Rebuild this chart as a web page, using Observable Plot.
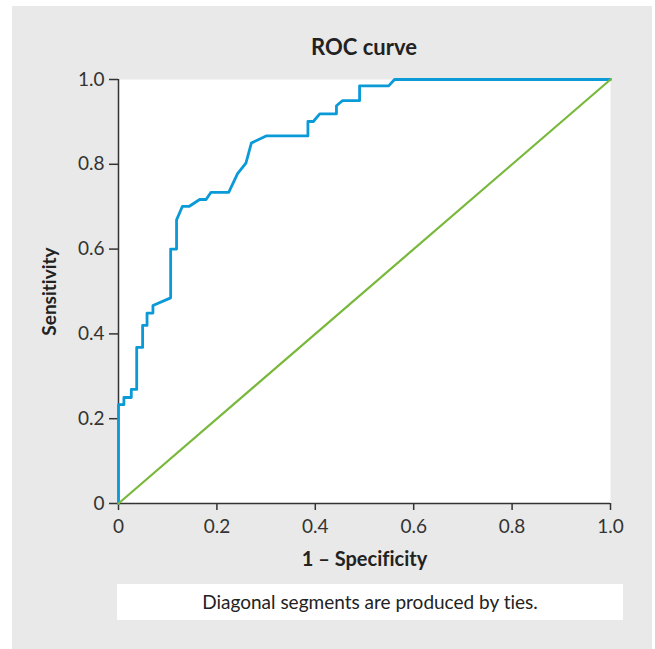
<!DOCTYPE html>
<html>
<head>
<meta charset="utf-8">
<script src="https://cdn.jsdelivr.net/npm/d3@7"></script>
<script src="https://cdn.jsdelivr.net/npm/@observablehq/plot@0.6"></script>
<style>
  html, body { margin: 0; padding: 0; background: #ffffff; }
  body { width: 655px; height: 649px; position: relative; overflow: hidden;
         font-family: Lato, "Open Sans", sans-serif; color: #222; font-variant-ligatures: none; }
  #panel { position: absolute; left: 12px; top: 6px; width: 640px; height: 643px; background: #e8e9e8; }
  #title { position: absolute; left: 118px; width: 492px; top: 33px; text-align: center;
           font-size: 22px; font-weight: bold; color: #222; }
  #chart { position: absolute; left: 0; top: 0; }
  #caption { position: absolute; left: 117px; top: 584px; width: 506px; height: 36px; background: #fff;
             text-align: center; line-height: 36px; font-size: 19px; color: #222; }
  #chart svg text { font-variant-ligatures: none; }
  #chart svg g[aria-label="x-axis label"] text { font-weight: bold; font-size: 20px; fill: #222; }
  #chart svg g[aria-label="y-axis label"] text { font-weight: bold; font-size: 19px; fill: #222; }
</style>
</head>
<body>
<div id="panel"></div>
<div id="title">ROC curve</div>
<div id="chart"></div>
<div id="caption">Diagonal segments are produced by ties.</div>
<script>
// ROC curve points
const fpr = [0, 0, 0.011, 0.011, 0.026, 0.026, 0.037, 0.037, 0.049, 0.049, 0.058, 0.058, 0.070, 0.070,
  0.106, 0.106, 0.118, 0.118, 0.130, 0.144, 0.165, 0.178, 0.188, 0.224, 0.242, 0.259, 0.270, 0.300,
  0.385, 0.385, 0.396, 0.409, 0.443, 0.443, 0.455, 0.490, 0.490, 0.549, 0.561, 1.0];
const tpr = [0, 0.233, 0.233, 0.250, 0.250, 0.269, 0.269, 0.368, 0.368, 0.420, 0.420, 0.449, 0.449, 0.467,
  0.485, 0.600, 0.600, 0.669, 0.701, 0.701, 0.717, 0.717, 0.734, 0.734, 0.778, 0.803, 0.850, 0.867,
  0.867, 0.901, 0.901, 0.919, 0.919, 0.938, 0.950, 0.950, 0.985, 0.985, 1.0, 1.0];
// reference diagonal
const diagX = [0, 1];
const diagY = [0, 1];
// ticks
const xTicks = [0, 0.2, 0.4, 0.6, 0.8, 1.0];
const yTicks = [0, 0.2, 0.4, 0.6, 0.8, 1.0];
const xLabel = "1 – Specificity";
const yLabel = "Sensitivity";

const roc = fpr.map((x, i) => ({x, y: tpr[i]}));
const diag = diagX.map((x, i) => ({x, y: diagY[i]}));
const fmt = d => d === 0 ? "0" : d.toFixed(1);

const chart = Plot.plot({
  width: 655, height: 649,
  marginLeft: 118, marginRight: 45, marginTop: 79, marginBottom: 146,
  x: {domain: [0, 1]},
  y: {domain: [0, 1]},
  style: {background: "transparent", fontFamily: "Lato, 'Open Sans', sans-serif", fontSize: "19px", color: "#333"},
  marks: [
    Plot.frame({fill: "white", stroke: "none"}),
    Plot.axisX({ticks: xTicks, tickSize: 7, tickPadding: 9, tickFormat: fmt, stroke: "#333", strokeWidth: 1.5,
      label: xLabel, labelAnchor: "center", labelArrow: "none", labelOffset: 62}),
    Plot.axisY({ticks: yTicks, tickSize: 9, tickPadding: 5, tickFormat: fmt, stroke: "#333", strokeWidth: 1.5,
      label: yLabel, labelAnchor: "center", labelArrow: "none", labelOffset: 76}),
    Plot.ruleX([0], {stroke: "#333", strokeWidth: 1.5}),
    Plot.ruleY([0], {stroke: "#333", strokeWidth: 1.5}),
    Plot.line(roc, {x: "x", y: "y", stroke: "#0b9ad8", strokeWidth: 2.8}),
    Plot.line(diag, {x: "x", y: "y", stroke: "#78b83a", strokeWidth: 2.2})
  ]
});
document.getElementById("chart").appendChild(chart);
</script>
</body>
</html>
